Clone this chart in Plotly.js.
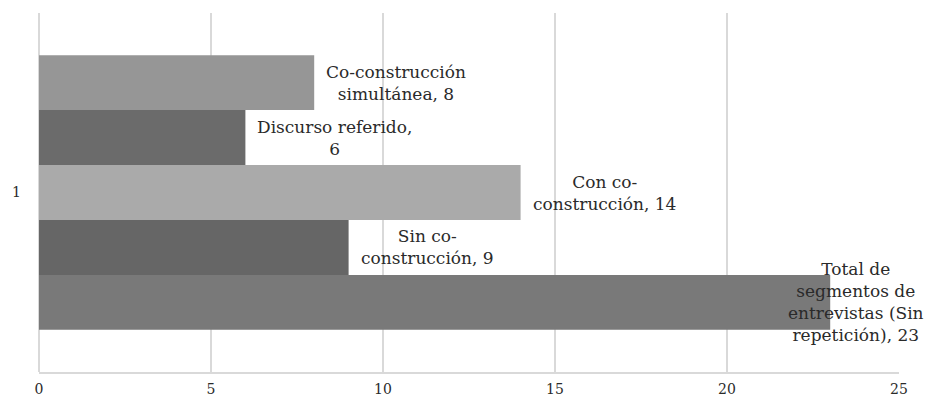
<!DOCTYPE html>
<html>
<head>
<meta charset="utf-8">
<script src="https://cdn.plot.ly/plotly-3.0.1.min.js"></script>
<style>html,body{margin:0;padding:0;background:#fff;}#chart{width:927px;height:400px;}</style>
</head>
<body>
<div id="chart"></div>
<script>
// Series listed bottom-to-top (Excel series order)
const category = [1];
const seriesNames = [
  "Total de segmentos de entrevistas (Sin repetición)",
  "Sin co-construcción",
  "Con co-construcción",
  "Discurso referido",
  "Co-construcción simultánea"
];
const seriesLabelLines = [
  "Total de<br>segmentos de<br>entrevistas (Sin<br>repetición)",
  "Sin co-<br>construcción",
  "Con co-<br>construcción",
  "Discurso referido",
  "Co-construcción<br>simultánea"
];
const seriesValues = [23, 9, 14, 6, 8];
const xTicks = [0, 5, 10, 15, 20, 25];

const colors = ["#797979", "#666666", "#aaaaaa", "#6b6b6b", "#969696"];
const font = "DejaVu Serif, Liberation Serif, serif";
const bargap = 0.235;
const n = seriesValues.length;
const barW = (1 - bargap) / n;

const traces = seriesValues.map((v, i) => ({
  type: "bar",
  orientation: "h",
  name: seriesNames[i],
  x: [v],
  y: category,
  marker: { color: colors[i], line: { width: 0 } },
  hoverinfo: "x+name"
}));

const annotations = seriesValues.map((v, i) => {
  const sep = (i === 3) ? ",<br>" : ", ";
  const overflow = (i === 0);
  return {
    x: v,
    y: category[0] + (i - (n - 1) / 2) * barW,
    xref: "x", yref: "y",
    text: seriesLabelLines[i] + sep + v,
    showarrow: false,
    xanchor: overflow ? "center" : "left",
    xshift: overflow ? 26 : 10,
    align: "center",
    font: { family: font, size: 17, color: "#2a2a2a" }
  };
});

const layout = {
  width: 927, height: 400,
  margin: { l: 39, r: 28, t: 13, b: 28 },
  paper_bgcolor: "#ffffff", plot_bgcolor: "#ffffff",
  barmode: "group",
  bargap: bargap,
  bargroupgap: 0,
  showlegend: false,
  xaxis: {
    range: [0, 25],
    tickvals: xTicks,
    ticktext: xTicks.map(String),
    showgrid: true, gridcolor: "#d9d9d9", gridwidth: 1.5,
    zeroline: true, zerolinecolor: "#d9d9d9", zerolinewidth: 1.5,
    showline: true, linecolor: "#d9d9d9", linewidth: 1.5,
    ticks: "", ticklabelstandoff: 4,
    tickfont: { family: font, size: 14, color: "#2a2a2a" },
    fixedrange: true
  },
  yaxis: {
    range: [0.5, 1.5],
    tickvals: category,
    ticktext: category.map(String),
    showgrid: false, zeroline: false, showline: false,
    ticks: "", ticklabelstandoff: 17,
    tickfont: { family: font, size: 14, color: "#2a2a2a" },
    fixedrange: true
  },
  annotations: annotations
};

Plotly.newPlot("chart", traces, layout, { displayModeBar: false, staticPlot: true });
</script>
</body>
</html>
